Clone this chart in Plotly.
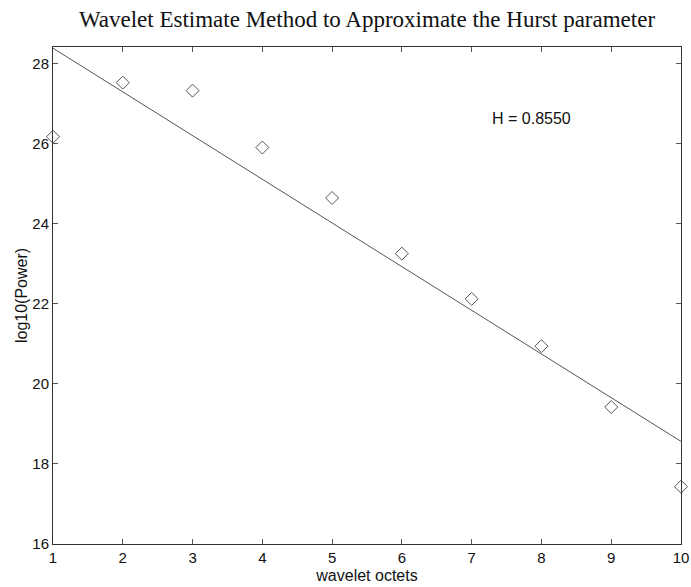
import numpy as np
import plotly.graph_objects as go

octets = [1, 2, 3, 4, 5, 6, 7, 8, 9, 10]
log_power = [26.17, 27.52, 27.32, 25.90, 24.64, 23.25, 22.12, 20.94, 19.42, 17.43]
x_ticks = [1, 2, 3, 4, 5, 6, 7, 8, 9, 10]
y_ticks = [16, 18, 20, 22, 24, 26, 28]
annotation_text = "H = 0.8550"

slope, intercept = np.polyfit(octets, log_power, 1)
fit_x = [octets[0], octets[-1]]
fit_y = [slope * v + intercept for v in fit_x]

fig = go.Figure()
fig.add_trace(go.Scatter(
    x=octets, y=log_power, mode="markers",
    marker=dict(symbol="diamond-open", size=10, color="#555555", line=dict(width=1, color="#555555")),
    showlegend=False, cliponaxis=False))
fig.add_trace(go.Scatter(
    x=fit_x, y=fit_y, mode="lines",
    line=dict(color="#555555", width=1),
    showlegend=False, cliponaxis=False))

axis_common = dict(
    showline=True, linecolor="#333333", linewidth=1, mirror="ticks",
    ticks="inside", ticklen=5, tickcolor="#555555", tickwidth=1,
    showgrid=False, zeroline=False, automargin=False,
    tickfont=dict(family="Liberation Sans, Arial", size=15, color="#111111"),
)

fig.update_layout(
    width=691, height=587,
    margin=dict(l=53, r=10, t=47, b=43),
    paper_bgcolor="white", plot_bgcolor="white",
    title=dict(text="Wavelet Estimate Method to Approximate the Hurst parameter",
               x=0.5, xref="paper", xanchor="center", y=0.968, yref="container", yanchor="middle",
               font=dict(family="Liberation Serif, Times New Roman", size=23, color="#111111")),
    xaxis=dict(range=[1, 10], tickvals=x_ticks, **axis_common,
               title=dict(text="wavelet octets", standoff=4,
                          font=dict(family="Liberation Sans, Arial", size=16, color="#111111"))),
    yaxis=dict(range=[16, 28.41], tickvals=y_ticks, **axis_common,
               title=dict(text="log10(Power)", standoff=0,
                          font=dict(family="Liberation Sans, Arial", size=16, color="#111111"))),
    annotations=[dict(x=7.26, y=26.63, xref="x", yref="y", text=annotation_text, showarrow=False,
                      xanchor="left", yanchor="middle",
                      font=dict(family="Liberation Sans, Arial", size=16, color="#111111"))],
)

fig.write_html("out.html")
